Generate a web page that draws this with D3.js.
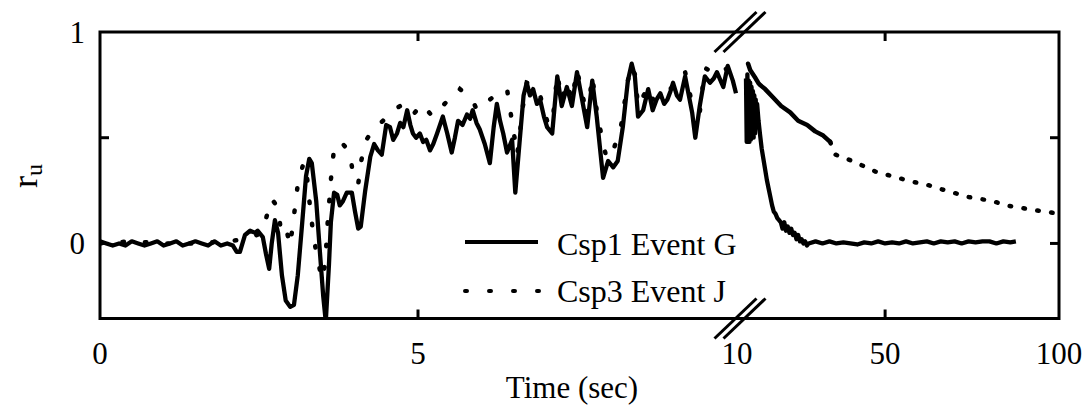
<!DOCTYPE html>
<html>
<head>
<meta charset="utf-8">
<script src="https://cdn.jsdelivr.net/npm/d3@7"></script>
<style>
  body { margin: 0; background: #fff; }
  svg { display: block; }
  text { font-family: "Liberation Serif", "Times New Roman", serif; fill: #000; }
</style>
</head>
<body>
<svg id="chart" width="1091" height="407"></svg>
<script>
// ---- tick values ----
const xTickLabels = [0, 5, 10, 50, 100];
const xInnerTicks = [5, 50];
const yTickMarks = [0, 0.5];
const yTickLabels = [0, 1];

// ---- series names ----
const seriesNames = ["Csp1 Event G", "Csp3 Event J"];

// ---- Csp1 Event G, 0-10 s (pore pressure ratio r_u) ----
const gLeftT = [0, 0.1, 0.2, 0.3, 0.4, 0.5, 0.6, 0.7, 0.8, 0.9, 1.0, 1.1, 1.2, 1.3, 1.4, 1.5, 1.6, 1.7, 1.8, 1.9, 2.0,
  2.09, 2.15, 2.20, 2.28, 2.36, 2.44, 2.48, 2.56, 2.61, 2.66, 2.70, 2.75, 2.80, 2.86, 2.92, 2.99, 3.05, 3.11, 3.18, 3.24,
  3.29, 3.33, 3.40, 3.46, 3.51, 3.55, 3.60, 3.63, 3.68, 3.73, 3.77, 3.82, 3.88, 3.96, 4.01, 4.06, 4.10, 4.17, 4.25, 4.31,
  4.37, 4.43, 4.50, 4.56, 4.61, 4.67, 4.72, 4.77, 4.83, 4.88, 4.92, 4.97, 5.03, 5.08, 5.13, 5.19, 5.24, 5.30, 5.39, 5.46, 5.53, 5.58, 5.63, 5.70, 5.77, 5.82, 5.86, 5.92, 5.97, 6.05, 6.13, 6.19, 6.24, 6.29, 6.34,
  6.40, 6.48, 6.53, 6.60, 6.66, 6.71, 6.76, 6.81, 6.87, 6.92, 6.98, 7.03, 7.11, 7.19, 7.26, 7.34, 7.42, 7.50, 7.58, 7.66, 7.74, 7.81, 7.91, 7.99,
  8.07, 8.14, 8.22, 8.30, 8.36, 8.41, 8.46, 8.54, 8.62, 8.69, 8.75, 8.81, 8.87, 8.92, 8.97, 9.01, 9.07, 9.12, 9.20, 9.31, 9.36, 9.43, 9.51, 9.59,
  9.65, 9.70, 9.80, 9.87, 9.95, 10.0];
const gLeftV = [0.01, 0.0, -0.01, 0.0, -0.01, 0.01, 0.0, -0.01, 0.0, 0.01, -0.01, 0.0, 0.01, -0.01, 0.0, 0.01, 0.0, -0.01, 0.01, -0.01, 0.0,
  -0.01, -0.04, -0.04, 0.04, 0.06, 0.05, 0.06, 0.03, -0.05, -0.12, 0.0, 0.11, 0.05, -0.15, -0.27, -0.30, -0.29, -0.15, 0.10, 0.32,
  0.40, 0.38, 0.20, -0.05, -0.25, -0.37, -0.10, 0.10, 0.24, 0.23, 0.18, 0.20, 0.24, 0.24, 0.15, 0.07, 0.08, 0.25, 0.41, 0.47,
  0.44, 0.42, 0.56, 0.55, 0.49, 0.52, 0.57, 0.55, 0.63, 0.56, 0.52, 0.50, 0.52, 0.48, 0.49, 0.44, 0.47, 0.52, 0.60, 0.52, 0.43, 0.50, 0.58, 0.56, 0.61, 0.59, 0.63, 0.57, 0.54, 0.47, 0.38, 0.55, 0.66, 0.58, 0.52,
  0.43, 0.49, 0.24, 0.49, 0.70, 0.76, 0.70, 0.73, 0.66, 0.68, 0.60, 0.55, 0.52, 0.79, 0.65, 0.74, 0.65, 0.81, 0.68, 0.55, 0.77, 0.60, 0.31, 0.39,
  0.36, 0.39, 0.55, 0.77, 0.85, 0.79, 0.60, 0.63, 0.73, 0.63, 0.68, 0.71, 0.66, 0.68, 0.72, 0.76, 0.70, 0.68, 0.79, 0.62, 0.50, 0.65, 0.79, 0.76,
  0.78, 0.81, 0.74, 0.84, 0.77, 0.71];

// ---- Csp1 Event G, 10-100 s ----
const gRightT = [10.0, 10.2, 10.4, 10.6, 10.8, 11.0, 11.2, 11.4, 11.6, 11.8, 12.0, 12.2, 12.4, 12.6, 12.8, 13.0, 13.2, 13.6,
  14.0, 14.5, 15.0, 15.5, 16.0, 16.5, 17.0, 17.5, 18.0, 18.5, 19.0, 19.5, 20.0, 20.5, 21.0, 21.5, 22.0, 22.5, 23.0, 23.5,
  24.0, 24.5, 25.0, 25.5, 26.0, 26.5, 27.0, 27.5, 28.0, 30, 32, 34, 36, 38, 40, 42, 44, 46, 48, 50, 52, 54, 56, 58, 60,
  62, 64, 66, 68, 70, 72, 74, 76, 78, 80, 82, 84, 86, 87.6];
const gRightV = [0.78, 0.48, 0.80, 0.49, 0.77, 0.48, 0.76, 0.49, 0.74, 0.50, 0.72, 0.50, 0.70, 0.52, 0.68, 0.55, 0.66, 0.58,
  0.52, 0.45, 0.40, 0.35, 0.30, 0.26, 0.22, 0.18, 0.15, 0.14, 0.12, 0.11, 0.10, 0.07, 0.10, 0.06, 0.08, 0.05, 0.07, 0.04,
  0.05, 0.02, 0.04, 0.01, 0.02, 0.0, 0.01, -0.01, 0.0, 0.01, 0.0, 0.01, 0.0, 0.005, 0.0, -0.005, 0.005, 0.0, 0.01, 0.0, 0.005, 0.0, 0.01, 0.0, 0.005,
  0.01, 0.0, 0.01, 0.005, 0.01, 0.0, 0.01, 0.005, 0.01, 0.01, 0.0, 0.01, 0.005, 0.01];

// ---- Csp3 Event J, 0-10 s ----
const jLeftT = [0, 0.5, 1.0, 1.5, 2.0, 2.3, 2.55, 2.64, 2.70, 2.80, 2.84, 2.91, 2.99, 3.07, 3.11, 3.19, 3.24, 3.27, 3.35, 3.41,
  3.49, 3.54, 3.58, 3.63, 3.68, 3.74, 3.82, 3.93, 3.98, 4.06, 4.10, 4.17, 4.29, 4.45, 4.56, 4.72, 4.90, 5.06, 5.23, 5.45,
  5.55, 5.66, 5.85, 5.93, 6.21, 6.40, 6.45, 6.56, 6.60, 6.65, 6.71, 6.81, 6.92, 7.03, 7.11, 7.19, 7.26, 7.34, 7.42, 7.50,
  7.58, 7.66, 7.74, 7.81, 7.91, 7.97, 8.07, 8.19, 8.30, 8.36, 8.41, 8.46, 8.62, 8.69, 8.85, 9.04, 9.20, 9.31, 9.43, 9.51,
  9.70, 9.87, 10.0];
const jLeftV = [0.0, 0.01, 0.0, 0.0, 0.01, 0.02, 0.05, 0.15, 0.21, 0.17, 0.07, 0.09, -0.01, 0.18, 0.28, 0.37, 0.38, 0.26, 0.05, -0.06,
  -0.17, -0.10, 0.10, 0.30, 0.45, 0.48, 0.47, 0.43, 0.32, 0.28, 0.38, 0.48, 0.54, 0.58, 0.62, 0.65, 0.60, 0.66, 0.60, 0.67,
  0.68, 0.73, 0.68, 0.63, 0.70, 0.73, 0.63, 0.42, 0.52, 0.65, 0.76, 0.75, 0.70, 0.58, 0.56, 0.80, 0.68, 0.76, 0.68, 0.82,
  0.71, 0.60, 0.79, 0.63, 0.47, 0.40, 0.44, 0.55, 0.77, 0.84, 0.80, 0.65, 0.74, 0.68, 0.72, 0.74, 0.81, 0.66, 0.62, 0.83,
  0.80, 0.83, 0.82];

// ---- Csp3 Event J, 10-100 s (dense record up to 34.2 s, then sparse) ----
const jRightT = [10.6, 11.2, 12.0, 12.8, 13.5, 14.0, 15.5, 17.8, 20.1, 22.7, 25.0, 27.6, 29.9, 32.2, 34.2,
  35.7, 40.6, 47.2, 53.8, 58.2, 61.6, 65.4, 69.7, 73.7, 77.5, 81.0, 84.7, 88.5, 91.9, 96.2, 100];
const jRightV = [0.85, 0.82, 0.80, 0.78, 0.76, 0.75, 0.73, 0.69, 0.65, 0.62, 0.58, 0.56, 0.53, 0.51, 0.48,
  0.42, 0.39, 0.34, 0.31, 0.29, 0.28, 0.26, 0.24, 0.22, 0.21, 0.20, 0.18, 0.17, 0.16, 0.15, 0.14];
const jDenseEnd = 34.2;

const zipTV = (t, v) => t.slice(0, Math.min(t.length, v.length)).map((d, i) => ({ t: d, v: v[i] }));

// ---- layout ----
const svg = d3.select("#chart");
const plot = { left: 100, right: 1059, top: 32, bottom: 318.5 };
const breakX = 740;

const xL = d3.scaleLinear().domain([0, 10]).range([plot.left, 736]);
const xR = d3.scaleLinear().domain([10, 100]).range([746, plot.right]);
const y = d3.scaleLinear().domain([-0.355, 1]).range([plot.bottom, plot.top]);
const xAt = t => (t <= 10 ? xL(t) : xR(t));

svg.append("defs").append("clipPath").attr("id", "plotClip")
  .append("rect")
  .attr("x", plot.left).attr("y", plot.top)
  .attr("width", plot.right - plot.left).attr("height", plot.bottom - plot.top);

const marks = svg.append("g").attr("clip-path", "url(#plotClip)");

const lineL = d3.line().x(d => xL(d.t)).y(d => y(d.v));
const lineR = d3.line().x(d => xR(d.t)).y(d => y(d.v));

// Csp3 Event J (dotted)
const jLeft = zipTV(jLeftT, jLeftV);
const jRight = zipTV(jRightT, jRightV);
marks.append("path").datum(jLeft)
  .attr("d", lineL).attr("fill", "none").attr("stroke", "#000")
  .attr("stroke-width", 4.5).attr("stroke-linecap", "round")
  .attr("stroke-dasharray", "1.5,21");
marks.append("path").datum(jRight.filter(d => d.t <= jDenseEnd))
  .attr("d", lineR).attr("fill", "none").attr("stroke", "#000")
  .attr("stroke-width", 4.5).attr("stroke-linecap", "round").attr("stroke-linejoin", "round");
marks.append("path").datum(jRight.filter(d => d.t >= jDenseEnd))
  .attr("d", lineR).attr("fill", "none").attr("stroke", "#000")
  .attr("stroke-width", 4.5).attr("stroke-linecap", "round")
  .attr("stroke-dasharray", "1.5,12.5");

// Csp1 Event G (solid)
marks.append("path").datum(zipTV(gLeftT, gLeftV))
  .attr("d", lineL).attr("fill", "none").attr("stroke", "#000")
  .attr("stroke-width", 4.3).attr("stroke-linejoin", "round");
marks.append("path").datum(zipTV(gRightT, gRightV))
  .attr("d", lineR).attr("fill", "none").attr("stroke", "#000")
  .attr("stroke-width", 4.3).attr("stroke-linejoin", "round");

// ---- frame ----
svg.append("rect")
  .attr("x", plot.left).attr("y", plot.top)
  .attr("width", plot.right - plot.left).attr("height", plot.bottom - plot.top)
  .attr("fill", "none").attr("stroke", "#000").attr("stroke-width", 3);

// inward tick marks
const tickLen = 9;
const ticks = svg.append("g").attr("stroke", "#000").attr("stroke-width", 3);
xInnerTicks.forEach(t => {
  const x = xAt(t);
  ticks.append("line").attr("x1", x).attr("x2", x).attr("y1", plot.top).attr("y2", plot.top + tickLen);
  ticks.append("line").attr("x1", x).attr("x2", x).attr("y1", plot.bottom).attr("y2", plot.bottom - tickLen);
});
yTickMarks.forEach(v => {
  ticks.append("line").attr("x1", plot.left).attr("x2", plot.left + tickLen).attr("y1", y(v)).attr("y2", y(v));
  ticks.append("line").attr("x1", plot.right).attr("x2", plot.right - tickLen).attr("y1", y(v)).attr("y2", y(v));
});

// axis break marks (//) on top and bottom edges
const brk = svg.append("g").attr("stroke", "#000").attr("stroke-width", 3);
[plot.top, plot.bottom].forEach(yy => {
  [-4.5, 4.5].forEach(off => {
    brk.append("line")
      .attr("x1", breakX + off - 21).attr("y1", yy + 20)
      .attr("x2", breakX + off + 21).attr("y2", yy - 20);
  });
});

// tick labels
const fs = 31;
svg.append("g").selectAll("text").data(xTickLabels).join("text")
  .attr("x", d => (d === 10 ? 737 : xAt(d)))
  .attr("y", 364)
  .attr("text-anchor", "middle")
  .attr("font-size", fs)
  .text(d => d);
svg.append("g").selectAll("text").data(yTickLabels).join("text")
  .attr("x", 85)
  .attr("y", d => y(d) + 11)
  .attr("text-anchor", "end")
  .attr("font-size", fs)
  .text(d => d);

// axis titles
svg.append("text")
  .attr("x", 572).attr("y", 398)
  .attr("text-anchor", "middle")
  .attr("font-size", fs)
  .text("Time (sec)");

const yTitle = svg.append("text")
  .attr("transform", "translate(37,188) rotate(-90)")
  .attr("font-size", 36);
yTitle.append("tspan").text("r");
yTitle.append("tspan").attr("font-size", 24).attr("dy", 5).text("u");

// legend
const legend = svg.append("g");
legend.append("line")
  .attr("x1", 465).attr("x2", 538).attr("y1", 242).attr("y2", 242)
  .attr("stroke", "#000").attr("stroke-width", 4);
legend.append("line")
  .attr("x1", 465).attr("x2", 539).attr("y1", 291).attr("y2", 291)
  .attr("stroke", "#000").attr("stroke-width", 4).attr("stroke-linecap", "round")
  .attr("stroke-dasharray", "2,22");
legend.selectAll("text").data(seriesNames).join("text")
  .attr("x", 557)
  .attr("y", (d, i) => 255 + i * 47)
  .attr("font-size", 32)
  .text(d => d);
</script>
</body>
</html>
